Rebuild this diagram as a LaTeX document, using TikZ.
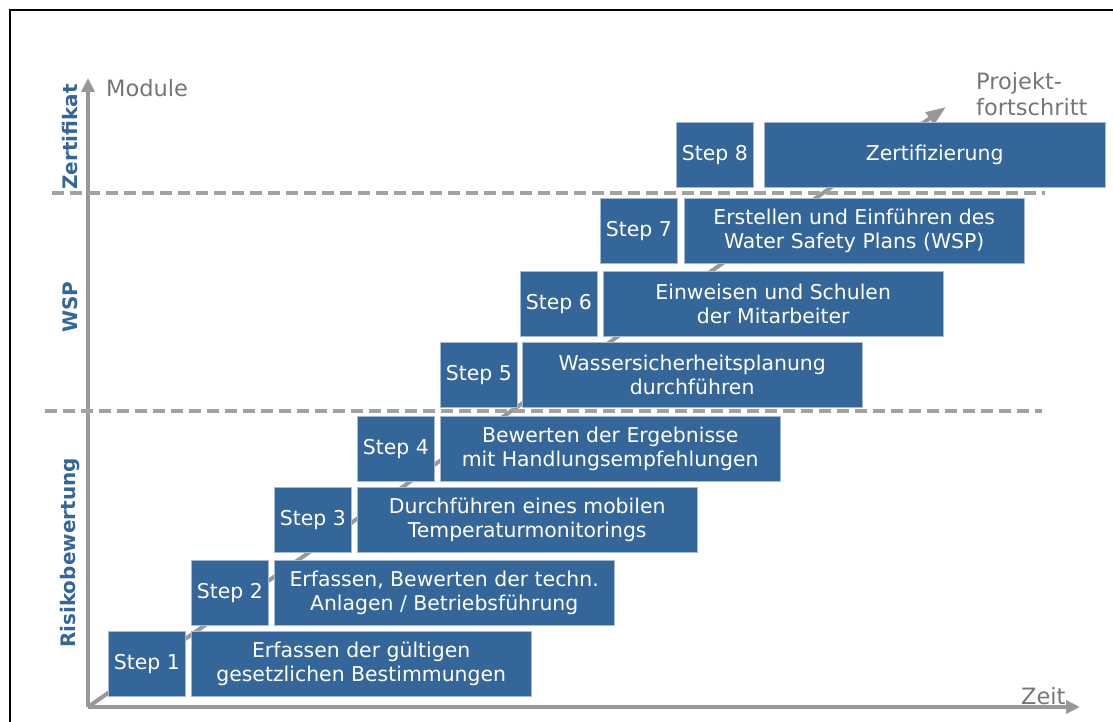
\documentclass[tikz,border=0pt]{standalone}
\usepackage{fontspec}
\setmainfont{DejaVu Sans}
\usepackage{xcolor}
\usetikzlibrary{arrows.meta,positioning}

\definecolor{boxblue}{RGB}{52,102,153}
\definecolor{axisgray}{RGB}{152,152,152}
\definecolor{lblgray}{RGB}{118,118,118}

\begin{document}
\begin{tikzpicture}[
    x=1pt, y=-1pt,
    stepbox/.style={draw=boxblue!45, line width=0.8pt, fill=boxblue,
                    text=white, font=\fontsize{20.4}{24}\selectfont,
                    minimum width=77pt, minimum height=65pt, inner sep=0pt,
                    anchor=north west},
    task/.style={stepbox, minimum width=340pt, align=center},
    axis/.style={line width=4pt, color=axisgray,
                 -{Triangle[length=14pt,width=13pt]}},
    sep/.style={line width=4pt, color=axisgray!90, dash pattern=on 12pt off 6pt},
    modul/.style={font=\bfseries\fontsize{20}{24}\selectfont, text=boxblue,
                  rotate=90},
    lbl/.style={font=\fontsize{22.5}{26}\selectfont, text=lblgray},
  ]
  \useasboundingbox (0,0) rectangle (1113,722);

  % frame, cut at right and bottom
  \draw[line width=2.5pt] (10,722) -- (10,10) -- (1113,10);

  % axes
  \coordinate (origin) at (88,707);
  \coordinate (ytip) at (88,78);
  \coordinate (xtip) at (1080,707);
  \coordinate (ptip) at (946,107);
  \draw[axis, -{Triangle[length=20pt,width=14pt]}] (origin) -- (ptip);
  \draw[axis] (origin) -- (ytip);
  \draw[axis] (origin) -- (xtip);

  % module borders
  \coordinate (sepA) at (52,193);
  \coordinate (sepA') at (1045,193);
  \coordinate (sepB) at (45,411);
  \coordinate (sepB') at (1042,411);
  \draw[sep] (sepA) -- (sepA');
  \draw[sep] (sepB) -- (sepB');

  % steps
  \node[stepbox] (s1) at (108,631) {Step 1};
  \node[task, right=5pt of s1.north east, anchor=north west] (t1)
    {Erfassen der gültigen\\gesetzlichen Bestimmungen};
  \node[stepbox] (s2) at (191,560) {Step 2};
  \node[task, right=5pt of s2.north east, anchor=north west] (t2)
    {Erfassen, Bewerten der techn.\\Anlagen / Betriebsführung};
  \node[stepbox] (s3) at (274,487) {Step 3};
  \node[task, right=5pt of s3.north east, anchor=north west] (t3)
    {Durchführen eines mobilen\\Temperaturmonitorings};
  \node[stepbox] (s4) at (357,416) {Step 4};
  \node[task, right=5pt of s4.north east, anchor=north west] (t4)
    {Bewerten der Ergebnisse\\mit Handlungsempfehlungen};
  \node[stepbox] (s5) at (440,342) {Step 5};
  \node[task, right=4pt of s5.north east, anchor=north west] (t5)
    {Wassersicherheitsplanung\\durchführen};
  \node[stepbox] (s6) at (520,271) {Step 6};
  \node[task, right=5pt of s6.north east, anchor=north west] (t6)
    {Einweisen und Schulen\\der Mitarbeiter};
  \node[stepbox] (s7) at (600,198) {Step 7};
  \node[task, right=6pt of s7.north east, anchor=north west] (t7)
    {Erstellen und Einführen des\\Water Safety Plans (WSP)};
  \node[stepbox] (s8) at (676,122) {Step 8};
  \node[task, minimum width=341pt, right=10pt of s8.north east,
        anchor=north west] (t8) {Zertifizierung};

  % labels
  \node[modul] (zert) at (70,137) {Zertifikat};
  \node[modul] (wsp) at (70,307) {WSP};
  \node[modul] (risk) at (70,553) {Risikobewertung};
  \node[lbl, anchor=west, inner sep=0pt] (module) at (106,88) {Module};
  \node[lbl, anchor=base west, inner sep=0pt] (zeit) at (1021,704) {Zeit};
  \node[lbl, anchor=north west, align=left, inner sep=0pt] (prog)
    at (976,72) {Projekt-\\fortschritt};
\end{tikzpicture}
\end{document}
